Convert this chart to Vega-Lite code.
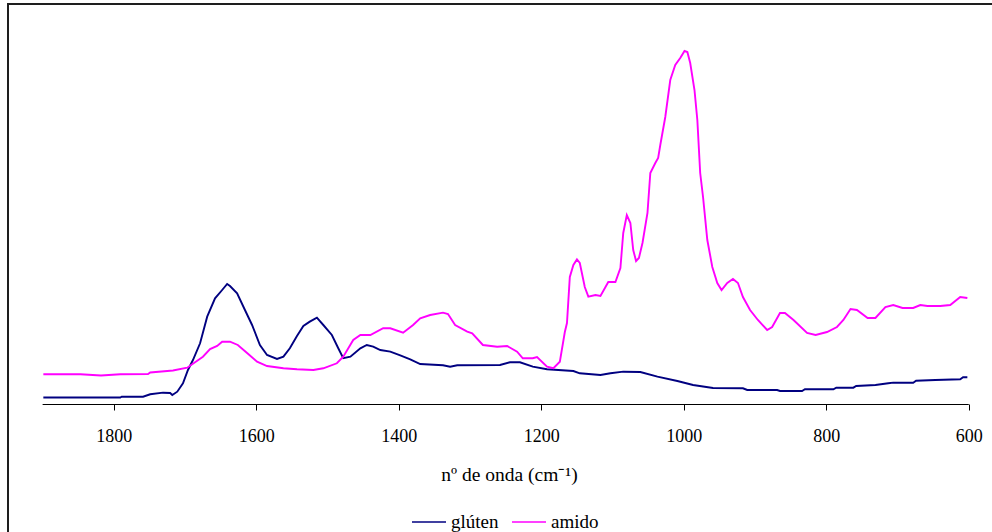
{
  "$schema": "https://vega.github.io/schema/vega-lite/v6.json",
  "usermeta": {"embedOptions": {"actions": false}},
  "autosize": {"type": "none"},
  "padding": {"left": 8, "top": 4, "right": 0, "bottom": 128},
  "width": 984,
  "height": 400,
  "background": "#ffffff",
  "config": {
    "font": "Liberation Serif",
    "view": {"stroke": null},
    "axis": {"labelFont": "Liberation Serif", "titleFont": "Liberation Serif"},
    "legend": {"labelFont": "Liberation Serif"}
  },
  "datasets": {
    "espectros": [
      {"serie": "glúten", "nu": 1899, "abs": 1.63},
      {"serie": "glúten", "nu": 1791, "abs": 1.63},
      {"serie": "glúten", "nu": 1789, "abs": 1.83},
      {"serie": "glúten", "nu": 1759, "abs": 1.83},
      {"serie": "glúten", "nu": 1749, "abs": 2.43},
      {"serie": "glúten", "nu": 1731, "abs": 2.83},
      {"serie": "glúten", "nu": 1721, "abs": 2.75},
      {"serie": "glúten", "nu": 1718, "abs": 2.25},
      {"serie": "glúten", "nu": 1711, "abs": 3.08},
      {"serie": "glúten", "nu": 1703, "abs": 5.18},
      {"serie": "glúten", "nu": 1696, "abs": 8.5},
      {"serie": "glúten", "nu": 1689, "abs": 11.0},
      {"serie": "glúten", "nu": 1679, "abs": 15.18},
      {"serie": "glúten", "nu": 1669, "abs": 21.83},
      {"serie": "glúten", "nu": 1658, "abs": 26.43},
      {"serie": "glúten", "nu": 1648, "abs": 28.5},
      {"serie": "glúten", "nu": 1641, "abs": 30.0},
      {"serie": "glúten", "nu": 1637, "abs": 29.5},
      {"serie": "glúten", "nu": 1627, "abs": 27.68},
      {"serie": "glúten", "nu": 1616, "abs": 23.5},
      {"serie": "glúten", "nu": 1606, "abs": 19.75},
      {"serie": "glúten", "nu": 1595, "abs": 14.75},
      {"serie": "glúten", "nu": 1585, "abs": 12.25},
      {"serie": "glúten", "nu": 1571, "abs": 11.25},
      {"serie": "glúten", "nu": 1562, "abs": 11.83},
      {"serie": "glúten", "nu": 1553, "abs": 13.93},
      {"serie": "glúten", "nu": 1543, "abs": 17.0},
      {"serie": "glúten", "nu": 1534, "abs": 19.5},
      {"serie": "glúten", "nu": 1525, "abs": 20.58},
      {"serie": "glúten", "nu": 1515, "abs": 21.58},
      {"serie": "glúten", "nu": 1506, "abs": 19.75},
      {"serie": "glúten", "nu": 1494, "abs": 17.25},
      {"serie": "glúten", "nu": 1485, "abs": 13.93},
      {"serie": "glúten", "nu": 1478, "abs": 11.43},
      {"serie": "glúten", "nu": 1468, "abs": 11.83},
      {"serie": "glúten", "nu": 1454, "abs": 13.93},
      {"serie": "glúten", "nu": 1445, "abs": 14.75},
      {"serie": "glúten", "nu": 1436, "abs": 14.33},
      {"serie": "glúten", "nu": 1426, "abs": 13.5},
      {"serie": "glúten", "nu": 1412, "abs": 13.08},
      {"serie": "glúten", "nu": 1398, "abs": 12.13},
      {"serie": "glúten", "nu": 1384, "abs": 11.18},
      {"serie": "glúten", "nu": 1370, "abs": 10.0},
      {"serie": "glúten", "nu": 1338, "abs": 9.68},
      {"serie": "glúten", "nu": 1328, "abs": 9.33},
      {"serie": "glúten", "nu": 1318, "abs": 9.68},
      {"serie": "glúten", "nu": 1258, "abs": 9.75},
      {"serie": "glúten", "nu": 1244, "abs": 10.43},
      {"serie": "glúten", "nu": 1230, "abs": 10.43},
      {"serie": "glúten", "nu": 1212, "abs": 9.33},
      {"serie": "glúten", "nu": 1192, "abs": 8.68},
      {"serie": "glúten", "nu": 1155, "abs": 8.25},
      {"serie": "glúten", "nu": 1146, "abs": 7.68},
      {"serie": "glúten", "nu": 1117, "abs": 7.25},
      {"serie": "glúten", "nu": 1103, "abs": 7.68},
      {"serie": "glúten", "nu": 1085, "abs": 8.08},
      {"serie": "glúten", "nu": 1061, "abs": 8.0},
      {"serie": "glúten", "nu": 1037, "abs": 6.83},
      {"serie": "glúten", "nu": 1009, "abs": 5.75},
      {"serie": "glúten", "nu": 987, "abs": 4.75},
      {"serie": "glúten", "nu": 959, "abs": 4.0},
      {"serie": "glúten", "nu": 917, "abs": 3.93},
      {"serie": "glúten", "nu": 911, "abs": 3.5},
      {"serie": "glúten", "nu": 869, "abs": 3.5},
      {"serie": "glúten", "nu": 865, "abs": 3.25},
      {"serie": "glúten", "nu": 834, "abs": 3.25},
      {"serie": "glúten", "nu": 830, "abs": 3.68},
      {"serie": "glúten", "nu": 790, "abs": 3.68},
      {"serie": "glúten", "nu": 786, "abs": 4.08},
      {"serie": "glúten", "nu": 762, "abs": 4.08},
      {"serie": "glúten", "nu": 758, "abs": 4.5},
      {"serie": "glúten", "nu": 731, "abs": 4.75},
      {"serie": "glúten", "nu": 713, "abs": 5.18},
      {"serie": "glúten", "nu": 706, "abs": 5.33},
      {"serie": "glúten", "nu": 678, "abs": 5.33},
      {"serie": "glúten", "nu": 674, "abs": 5.83},
      {"serie": "glúten", "nu": 647, "abs": 6.0},
      {"serie": "glúten", "nu": 612, "abs": 6.18},
      {"serie": "glúten", "nu": 608, "abs": 6.68},
      {"serie": "glúten", "nu": 602, "abs": 6.68},

      {"serie": "amido", "nu": 1899, "abs": 7.43},
      {"serie": "amido", "nu": 1847, "abs": 7.43},
      {"serie": "amido", "nu": 1818, "abs": 7.13},
      {"serie": "amido", "nu": 1791, "abs": 7.43},
      {"serie": "amido", "nu": 1752, "abs": 7.5},
      {"serie": "amido", "nu": 1749, "abs": 7.88},
      {"serie": "amido", "nu": 1717, "abs": 8.38},
      {"serie": "amido", "nu": 1697, "abs": 9.08},
      {"serie": "amido", "nu": 1675, "abs": 11.83},
      {"serie": "amido", "nu": 1665, "abs": 13.75},
      {"serie": "amido", "nu": 1655, "abs": 14.5},
      {"serie": "amido", "nu": 1648, "abs": 15.58},
      {"serie": "amido", "nu": 1637, "abs": 15.58},
      {"serie": "amido", "nu": 1626, "abs": 14.75},
      {"serie": "amido", "nu": 1613, "abs": 12.75},
      {"serie": "amido", "nu": 1599, "abs": 10.58},
      {"serie": "amido", "nu": 1585, "abs": 9.5},
      {"serie": "amido", "nu": 1562, "abs": 8.93},
      {"serie": "amido", "nu": 1543, "abs": 8.68},
      {"serie": "amido", "nu": 1520, "abs": 8.5},
      {"serie": "amido", "nu": 1506, "abs": 8.93},
      {"serie": "amido", "nu": 1487, "abs": 10.18},
      {"serie": "amido", "nu": 1478, "abs": 11.83},
      {"serie": "amido", "nu": 1464, "abs": 16.0},
      {"serie": "amido", "nu": 1454, "abs": 17.25},
      {"serie": "amido", "nu": 1440, "abs": 17.25},
      {"serie": "amido", "nu": 1422, "abs": 18.93},
      {"serie": "amido", "nu": 1412, "abs": 18.93},
      {"serie": "amido", "nu": 1394, "abs": 17.83},
      {"serie": "amido", "nu": 1380, "abs": 19.75},
      {"serie": "amido", "nu": 1370, "abs": 21.43},
      {"serie": "amido", "nu": 1356, "abs": 22.25},
      {"serie": "amido", "nu": 1338, "abs": 22.83},
      {"serie": "amido", "nu": 1331, "abs": 22.5},
      {"serie": "amido", "nu": 1321, "abs": 19.75},
      {"serie": "amido", "nu": 1304, "abs": 18.08},
      {"serie": "amido", "nu": 1297, "abs": 17.68},
      {"serie": "amido", "nu": 1282, "abs": 14.75},
      {"serie": "amido", "nu": 1262, "abs": 14.33},
      {"serie": "amido", "nu": 1248, "abs": 14.5},
      {"serie": "amido", "nu": 1234, "abs": 13.08},
      {"serie": "amido", "nu": 1226, "abs": 11.43},
      {"serie": "amido", "nu": 1212, "abs": 11.43},
      {"serie": "amido", "nu": 1206, "abs": 11.75},
      {"serie": "amido", "nu": 1192, "abs": 9.33},
      {"serie": "amido", "nu": 1183, "abs": 8.93},
      {"serie": "amido", "nu": 1174, "abs": 10.58},
      {"serie": "amido", "nu": 1167, "abs": 18.0},
      {"serie": "amido", "nu": 1164, "abs": 20.25},
      {"serie": "amido", "nu": 1160, "abs": 31.75},
      {"serie": "amido", "nu": 1155, "abs": 34.75},
      {"serie": "amido", "nu": 1150, "abs": 36.13},
      {"serie": "amido", "nu": 1146, "abs": 35.25},
      {"serie": "amido", "nu": 1139, "abs": 29.25},
      {"serie": "amido", "nu": 1134, "abs": 26.83},
      {"serie": "amido", "nu": 1124, "abs": 27.25},
      {"serie": "amido", "nu": 1117, "abs": 27.0},
      {"serie": "amido", "nu": 1106, "abs": 30.5},
      {"serie": "amido", "nu": 1096, "abs": 30.5},
      {"serie": "amido", "nu": 1089, "abs": 34.0},
      {"serie": "amido", "nu": 1085, "abs": 42.75},
      {"serie": "amido", "nu": 1080, "abs": 47.25},
      {"serie": "amido", "nu": 1075, "abs": 45.25},
      {"serie": "amido", "nu": 1071, "abs": 38.5},
      {"serie": "amido", "nu": 1067, "abs": 35.75},
      {"serie": "amido", "nu": 1063, "abs": 36.5},
      {"serie": "amido", "nu": 1058, "abs": 40.25},
      {"serie": "amido", "nu": 1051, "abs": 47.75},
      {"serie": "amido", "nu": 1047, "abs": 57.75},
      {"serie": "amido", "nu": 1040, "abs": 60.25},
      {"serie": "amido", "nu": 1036, "abs": 61.5},
      {"serie": "amido", "nu": 1033, "abs": 64.75},
      {"serie": "amido", "nu": 1026, "abs": 71.75},
      {"serie": "amido", "nu": 1019, "abs": 81.0},
      {"serie": "amido", "nu": 1012, "abs": 84.75},
      {"serie": "amido", "nu": 1005, "abs": 86.5},
      {"serie": "amido", "nu": 999, "abs": 88.25},
      {"serie": "amido", "nu": 995, "abs": 88.0},
      {"serie": "amido", "nu": 991, "abs": 85.25},
      {"serie": "amido", "nu": 985, "abs": 78.5},
      {"serie": "amido", "nu": 981, "abs": 71.0},
      {"serie": "amido", "nu": 977, "abs": 57.75},
      {"serie": "amido", "nu": 973, "abs": 51.75},
      {"serie": "amido", "nu": 967, "abs": 41.0},
      {"serie": "amido", "nu": 960, "abs": 34.25},
      {"serie": "amido", "nu": 953, "abs": 30.25},
      {"serie": "amido", "nu": 947, "abs": 28.5},
      {"serie": "amido", "nu": 939, "abs": 30.25},
      {"serie": "amido", "nu": 931, "abs": 31.25},
      {"serie": "amido", "nu": 924, "abs": 30.25},
      {"serie": "amido", "nu": 917, "abs": 26.75},
      {"serie": "amido", "nu": 907, "abs": 23.5},
      {"serie": "amido", "nu": 896, "abs": 21.0},
      {"serie": "amido", "nu": 883, "abs": 18.5},
      {"serie": "amido", "nu": 876, "abs": 19.25},
      {"serie": "amido", "nu": 865, "abs": 22.75},
      {"serie": "amido", "nu": 858, "abs": 22.75},
      {"serie": "amido", "nu": 846, "abs": 21.0},
      {"serie": "amido", "nu": 827, "abs": 17.75},
      {"serie": "amido", "nu": 815, "abs": 17.25},
      {"serie": "amido", "nu": 799, "abs": 18.0},
      {"serie": "amido", "nu": 785, "abs": 19.25},
      {"serie": "amido", "nu": 776, "abs": 21.0},
      {"serie": "amido", "nu": 766, "abs": 23.75},
      {"serie": "amido", "nu": 757, "abs": 23.5},
      {"serie": "amido", "nu": 742, "abs": 21.5},
      {"serie": "amido", "nu": 731, "abs": 21.5},
      {"serie": "amido", "nu": 717, "abs": 24.25},
      {"serie": "amido", "nu": 706, "abs": 24.75},
      {"serie": "amido", "nu": 693, "abs": 24.0},
      {"serie": "amido", "nu": 678, "abs": 24.0},
      {"serie": "amido", "nu": 668, "abs": 24.75},
      {"serie": "amido", "nu": 658, "abs": 24.5},
      {"serie": "amido", "nu": 640, "abs": 24.5},
      {"serie": "amido", "nu": 626, "abs": 24.75},
      {"serie": "amido", "nu": 612, "abs": 26.75},
      {"serie": "amido", "nu": 602, "abs": 26.5}
    ],
    "eixo": [
      {"nu": 1900, "nu2": 600, "abs": -0.125}
    ],
    "moldura": [
      {"nu": 1948.6, "nu2": 500, "abs": 100, "abs2": -50}
    ]
  },
  "encoding": {
    "x": {
      "field": "nu",
      "type": "quantitative",
      "scale": {"domain": [567.4, 1948.6], "reverse": true, "nice": false, "zero": false},
      "axis": {
        "title": "nº de onda (cm⁻¹)",
        "values": [1800, 1600, 1400, 1200, 1000, 800, 600],
        "format": "d",
        "domain": false,
        "grid": false,
        "ticks": true,
        "tickSize": 6,
        "tickColor": "#000000",
        "tickWidth": 1,
        "labelFont": "Liberation Serif",
        "labelFontSize": 18,
        "labelColor": "#000000",
        "labelBaseline": "alphabetic",
        "labelPadding": 31,
        "labelFlush": false,
        "labelOverlap": false,
        "titleFont": "Liberation Serif",
        "titleFontSize": 19.5,
        "titleFontWeight": "normal",
        "titleColor": "#000000",
        "titleBaseline": "alphabetic",
        "titleAlign": "center",
        "titleX": 501,
        "titleY": 76
      }
    },
    "y": {
      "field": "abs",
      "type": "quantitative",
      "scale": {"domain": [0, 100], "nice": false, "zero": false},
      "axis": null
    }
  },
  "layer": [
    {
      "data": {"name": "moldura"},
      "mark": {"type": "rect", "fill": null, "stroke": "#1e1e1e", "strokeWidth": 2},
      "encoding": {
        "x2": {"field": "nu2"},
        "y2": {"field": "abs2"}
      }
    },
    {
      "data": {"name": "espectros"},
      "mark": {"type": "line", "strokeWidth": 1.9, "interpolate": "linear"},
      "encoding": {
        "color": {
          "field": "serie",
          "type": "nominal",
          "sort": ["glúten", "amido"],
          "scale": {"domain": ["glúten", "amido"], "range": ["#000080", "#ff00ff"]},
          "legend": {
            "title": null,
            "orient": "none",
            "direction": "horizontal",
            "legendX": 403,
            "legendY": 500,
            "symbolType": "stroke",
            "symbolSize": 1156,
            "symbolStrokeWidth": 1.5,
            "labelFont": "Liberation Serif",
            "labelFontSize": 19,
            "labelColor": "#000000",
            "labelOffset": 4,
            "columnPadding": 10
          }
        }
      }
    },
    {
      "data": {"name": "eixo"},
      "mark": {"type": "rule", "color": "#000000", "strokeWidth": 1},
      "encoding": {
        "x2": {"field": "nu2"}
      }
    }
  ]
}
